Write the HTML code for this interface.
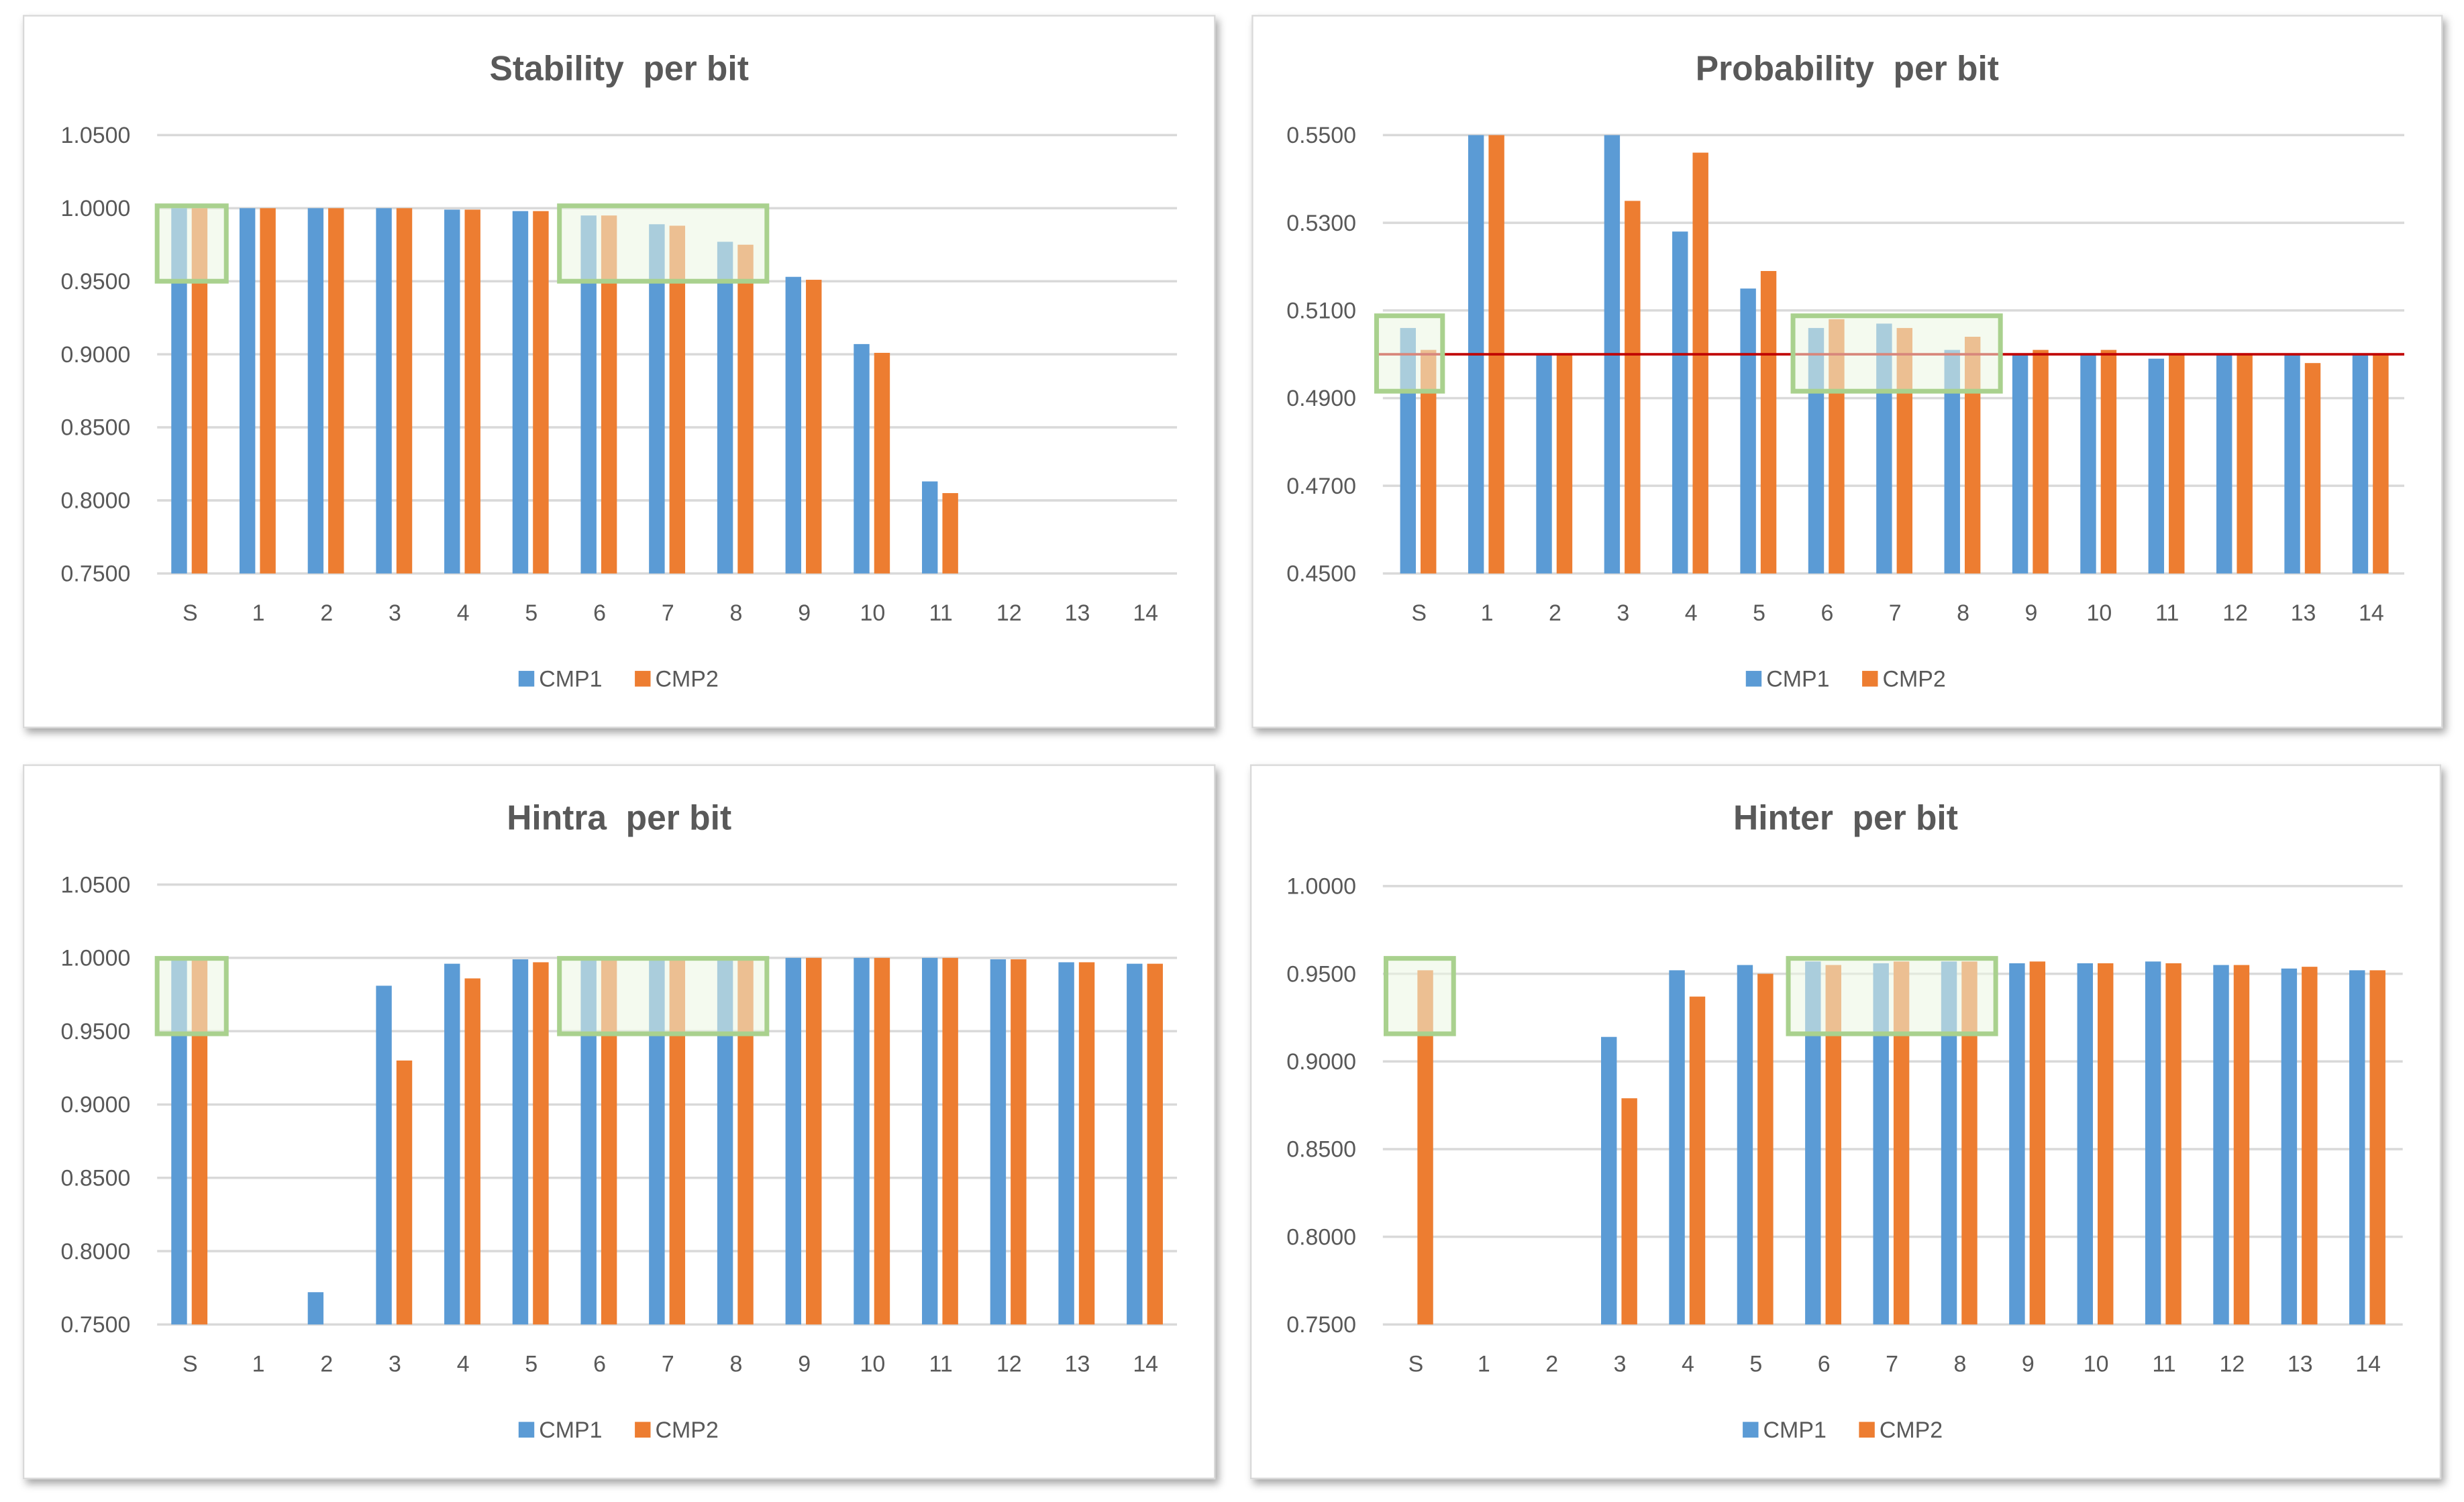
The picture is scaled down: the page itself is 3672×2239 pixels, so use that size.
<!DOCTYPE html>
<html><head><meta charset="utf-8">
<style>
html,body{margin:0;padding:0;background:#fff;}
svg{display:block;}
text{font-family:"Liberation Sans",Arial,sans-serif;white-space:pre;}
</style></head>
<body>
<svg id="root" width="3672" height="2239" viewBox="0 0 1568 956" preserveAspectRatio="none" xmlns="http://www.w3.org/2000/svg">
<defs>
<filter id="sh" x="-5%" y="-5%" width="110%" height="110%"><feDropShadow dx="2" dy="3" stdDeviation="2.5" flood-color="#000" flood-opacity="0.35"/></filter>
</defs>
<rect width="1568" height="956" fill="#fff"/>
</svg>
<script>
const categories = ["S","1","2","3","4","5","6","7","8","9","10","11","12","13","14"];
const seriesNames = ["CMP1","CMP2"];
const stabilityCmp1 = [1.0,1.0,1.0,1.0,0.999,0.998,0.995,0.989,0.977,0.953,0.907,0.813,null,null,null];
const stabilityCmp2 = [1.0,1.0,1.0,1.0,0.999,0.998,0.995,0.988,0.975,0.951,0.901,0.805,null,null,null];
const probabilityCmp1 = [0.506,0.55,0.500,0.55,0.528,0.515,0.506,0.507,0.501,0.500,0.500,0.499,0.500,0.500,0.500];
const probabilityCmp2 = [0.501,0.55,0.500,0.535,0.546,0.519,0.508,0.506,0.504,0.501,0.501,0.500,0.500,0.498,0.500];
const hintraCmp1 = [1.0,null,0.772,0.981,0.996,0.999,1.0,1.0,1.0,1.0,1.0,1.0,0.999,0.997,0.996];
const hintraCmp2 = [1.0,null,null,0.930,0.986,0.997,1.0,1.0,1.0,1.0,1.0,1.0,0.999,0.997,0.996];
const hinterCmp1 = [null,null,null,0.914,0.952,0.955,0.957,0.956,0.957,0.956,0.956,0.957,0.955,0.953,0.952];
const hinterCmp2 = [0.952,null,null,0.879,0.937,0.950,0.955,0.957,0.957,0.957,0.956,0.956,0.955,0.954,0.952];
const ticksA = [0.75,0.80,0.85,0.90,0.95,1.00,1.05];
const ticksP = [0.45,0.47,0.49,0.51,0.53,0.55];
const ticksH = [0.75,0.80,0.85,0.90,0.95,1.00];
const probRefValue = 0.50;

const NS = "http://www.w3.org/2000/svg";
const root = document.getElementById('root');
function mk(tag, attrs, parent){const e=document.createElementNS(NS,tag);for(const k in attrs)e.setAttribute(k,attrs[k]);(parent||root).appendChild(e);return e;}

const panels = [
 {key:"stability",title:"Stability  per bit",box:[15,10,758,453],px:[100,749],py:[365,86],ticks:ticksA,s1:stabilityCmp1,s2:stabilityCmp2,xl:[121,729],legX:330,hl:[[100,131,44,48],[356,131,132,48]]},
 {key:"probability",title:"Probability  per bit",box:[797,10,757,453],px:[880,1530],py:[365,86],ticks:ticksP,s1:probabilityCmp1,s2:probabilityCmp2,xl:[903,1509],legX:1111,ref:probRefValue,hl:[[876,201,42,48],[1141,201,132,48]]},
 {key:"hintra",title:"Hintra  per bit",box:[15,487,758,454],px:[100,749],py:[843,563],ticks:ticksA,s1:hintraCmp1,s2:hintraCmp2,xl:[121,729],legX:330,hl:[[100,610,44,48],[356,610,132,48]]},
 {key:"hinter",title:"Hinter  per bit",box:[796,487,757,454],px:[880,1529],py:[843,564],ticks:ticksH,s1:hinterCmp1,s2:hinterCmp2,xl:[901,1507],legX:1109,hl:[[882,610,43,48],[1138,610,132,48]]}
];

panels.forEach(p=>{
  const g = mk('g',{});
  
  
  const [bx,by,bw,bh] = p.box;
  const bg = mk('rect',{x:bx,y:by,width:bw,height:bh,fill:'#fff',stroke:'#d9d9d9','stroke-width':1,filter:'url(#sh)'},g);
  
  
  const cx = bx+bw/2;
  const t = mk('text',{x:cx,y:by+41,'text-anchor':'middle','font-size':22,'font-weight':'bold',fill:'#595959'},g);
  t.textContent = p.title;
  
  
  const vmin = p.ticks[0], vmax = p.ticks[p.ticks.length-1];
  const yOf = v => p.py[0] + (v-vmin)/(vmax-vmin)*(p.py[1]-p.py[0]);
  const step = (p.xl[1]-p.xl[0])/(categories.length-1);
  const xOf = i => p.xl[0] + i*step;
  p.ticks.forEach(tv=>{
    const y = yOf(tv);
    const gl = mk('line',{x1:p.px[0],x2:p.px[1],y1:y,y2:y,stroke:'#d9d9d9','stroke-width':1.5},g);
    
    
    const tl = mk('text',{x:p.px[0]-17,y:y+5,'text-anchor':'end','font-size':14.5,fill:'#595959'},g);
    tl.textContent = tv.toFixed(4);
    
    
  });
  const bw2 = 10;
  [p.s1,p.s2].forEach((arr,si)=>{
    arr.forEach((v,i)=>{
      if(v===null) return;
      const x = xOf(i) + (si===0?-12:1);
      const y = yOf(Math.min(v,vmax));
      const r = mk('rect',{x:x,y:y,width:bw2,height:yOf(vmin)-y,fill:si===0?'#5b9bd5':'#ed7d31'},g);
      
      
    });
  });
  if(p.ref!==undefined){
    const ry = yOf(p.ref);
    const rl = mk('line',{x1:p.px[0]-4,x2:p.px[1],y1:ry,y2:ry,stroke:'#c00000','stroke-width':1.6},g);
    
    
  }
  p.hl.forEach(h=>{
    const hr = mk('rect',{x:h[0],y:h[1],width:h[2],height:h[3],fill:'rgba(235,245,225,0.55)',stroke:'#a9d18e','stroke-width':3},g);
    
    
  });
  categories.forEach((c,i)=>{
    const xl = mk('text',{x:xOf(i),y:p.py[0]+30,'text-anchor':'middle','font-size':14.5,fill:'#595959'},g);
    xl.textContent = c;
    
    
  });
  const ly = p.py[0]+72;
  seriesNames.forEach((n,si)=>{
    const lx = p.legX + si*74;
    const sw = mk('rect',{x:lx,y:ly-10,width:10,height:10,fill:si===0?'#5b9bd5':'#ed7d31'},g);
    
    
    const lt = mk('text',{x:lx+13,y:ly,'font-size':14.5,fill:'#595959'},g);
    lt.textContent = n;
    
    
  });
});
</script>
</body></html>
